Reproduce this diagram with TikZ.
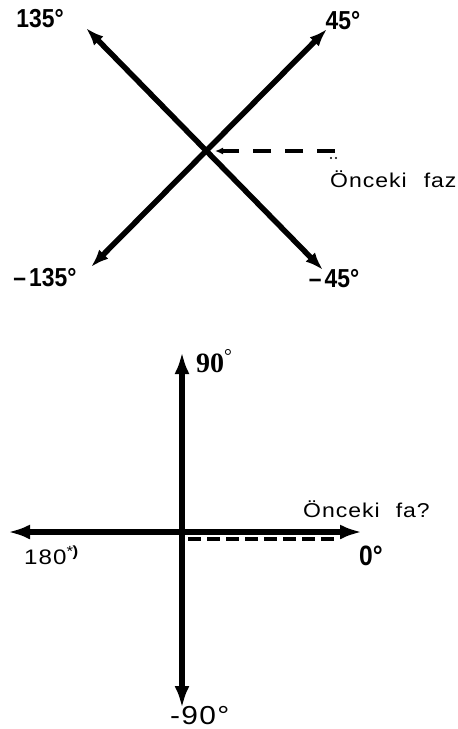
\documentclass[tikz,border=0pt]{standalone}
\usepackage{fontspec}
\setmainfont{Liberation Sans}
\newfontfamily\annfont{Liberation Sans}[FakeStretch=1.15,LetterSpace=5]
\newfontfamily\numfont{Liberation Sans}[FakeStretch=0.88]
\newfontfamily\serfont{Liberation Serif}
\usetikzlibrary{arrows.meta}
\begin{document}
\begin{tikzpicture}[x=1pt,y=-1pt,
  axisA/.style={line width=5.5pt,{Latex[length=18pt,width=13pt]}-{Latex[length=18pt,width=13pt]}},
  axisB/.style={line width=6.5pt,{Latex[length=22pt,width=15pt]}-{Latex[length=22pt,width=15pt]}},
  dashA/.style={line width=3.5pt,dash pattern=on 18pt off 14pt,-{Latex[length=8pt,width=7pt]}},
  dashB/.style={line width=4pt,dash pattern=on 13pt off 6pt},
  numlbl/.style={inner sep=0pt,font=\numfont\bfseries\fontsize{26}{28}\selectfont},
  annlbl/.style={inner sep=0pt,anchor=base west,font=\annfont\fontsize{20}{22}\selectfont},
]
\useasboundingbox (0,0) rectangle (458,729);
% ---------- top diagram ----------
\coordinate (c1) at (206,151);
\coordinate (ul) at (86,28);
\coordinate (lr) at (323,270);
\coordinate (ll) at (91,267);
\coordinate (ur) at (327,29);
\draw[axisA] (ul) -- (lr);
\draw[axisA] (ll) -- (ur);
\coordinate (pf1) at (335,151);
\coordinate (c1r) at (215,151);
\draw[dashA] (pf1) -- (c1r);
\fill (331,158) circle (1.2pt) (336,158) circle (1.2pt);
\node[numlbl] (l135) at (40,19) {135°};
\node[numlbl] (l45) at (343,21) {45°};
\node[numlbl] (lm135) at (45,278) {–\hspace{3pt}135°};
\node[numlbl] (lm45) at (334,279) {–\hspace{3pt}45°};
\node[annlbl] (pf1lbl) at (330,187) {Önceki\hspace{17pt}faz};
% ---------- bottom diagram ----------
\coordinate (c2) at (182,532);
\coordinate (tp) at (182,352);
\coordinate (bt) at (182,708);
\coordinate (lf) at (8,532);
\coordinate (rt) at (362,532);
\draw[axisB] (tp) -- (bt);
\draw[axisB] (lf) -- (rt);
\coordinate (d2a) at (188,539);
\coordinate (d2b) at (335,539);
\draw[dashB] (d2a) -- (d2b);
\node[inner sep=0pt,anchor=base west,font=\serfont\bfseries\fontsize{28}{30}\selectfont] (l90) at (196,372) {90\textsuperscript{\mdseries °}};
\node[annlbl] (pf2lbl) at (303,517) {Önceki\hspace{16pt}fa?};
\node[inner sep=0pt,anchor=base west,font=\annfont\fontsize{21}{23}\selectfont] (l180) at (24,564) {180\textsuperscript{*\kern-0.5pt\bfseries)}};
\node[numlbl,font=\numfont\bfseries\fontsize{28}{30}\selectfont] (l0) at (371,556) {0°};
\node[annlbl,font=\annfont\fontsize{26}{28}\selectfont] (lm90) at (170,724) {-90°};
\end{tikzpicture}
\end{document}
